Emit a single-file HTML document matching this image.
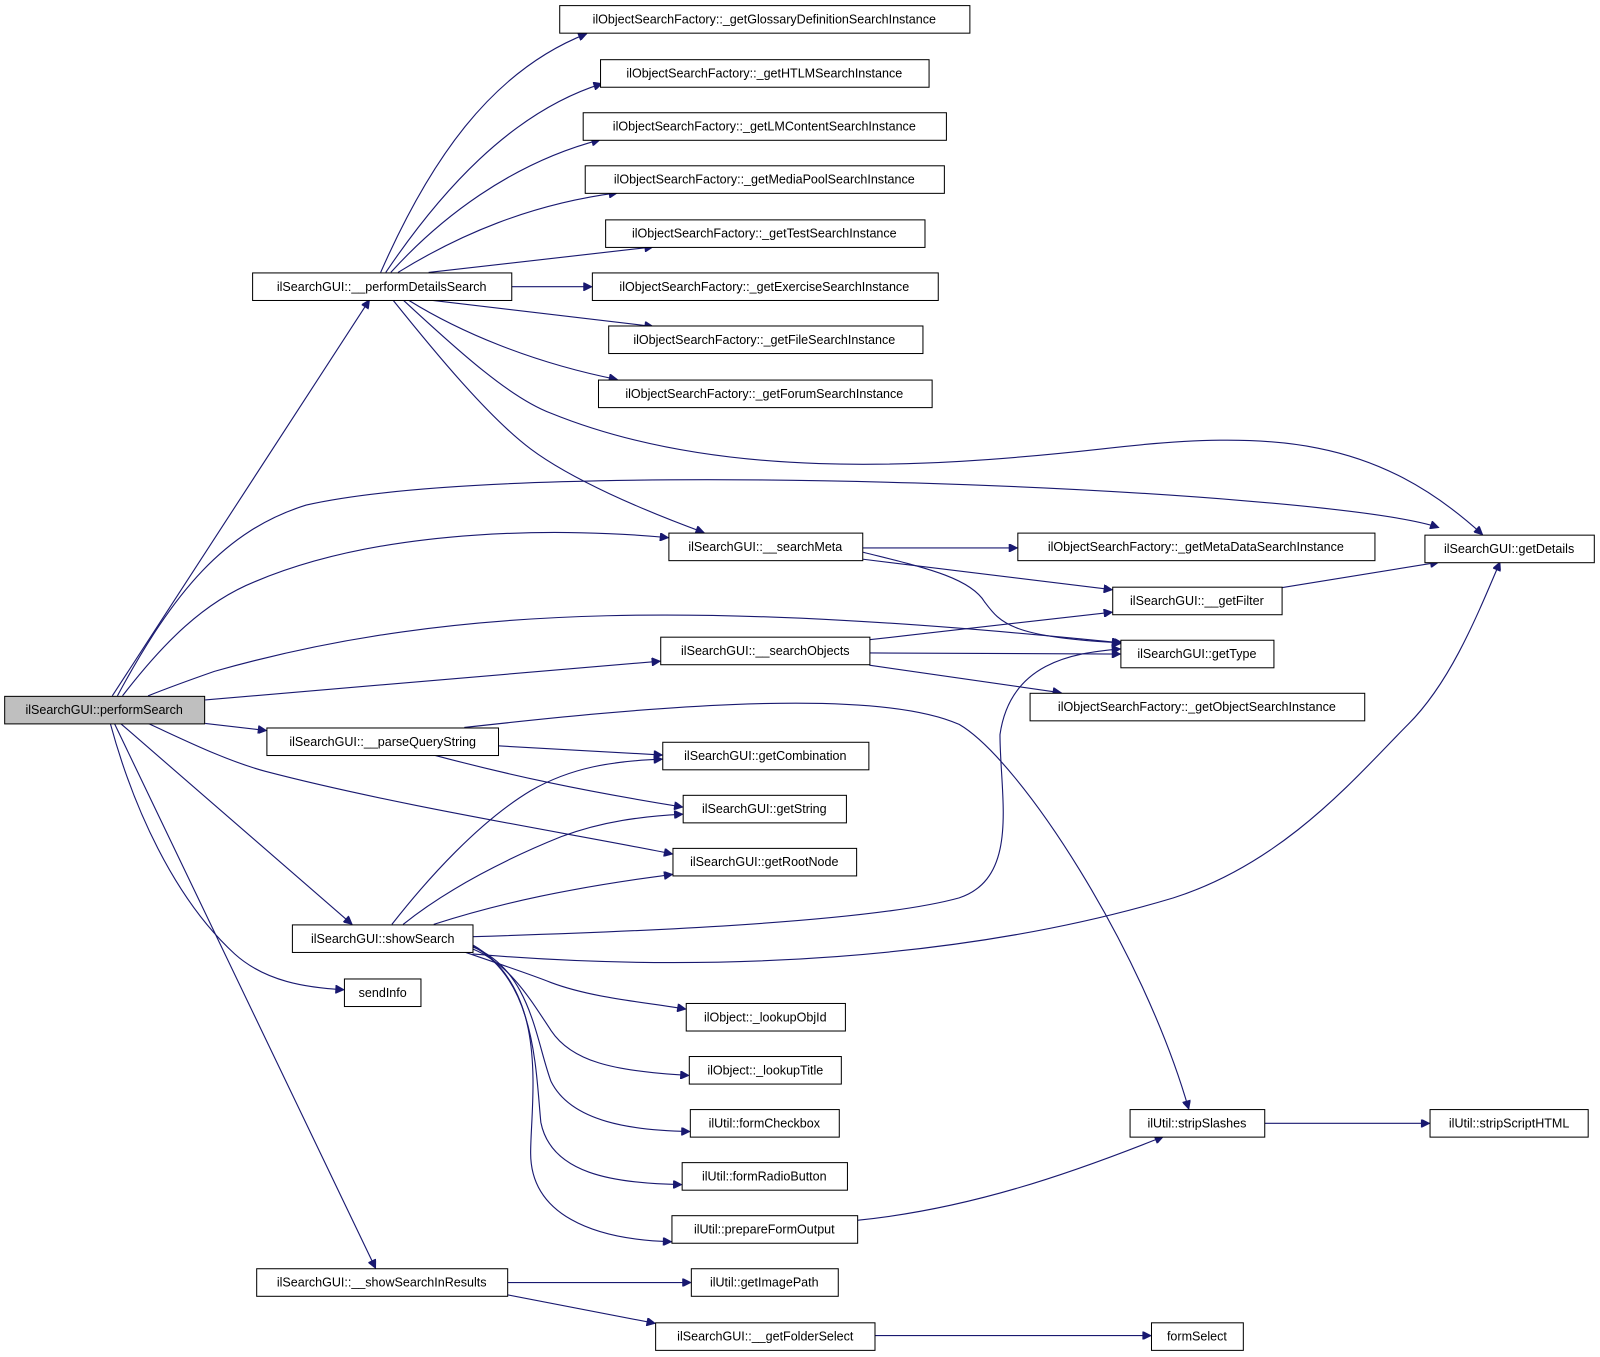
<!DOCTYPE html>
<html><head><meta charset="utf-8"><style>
html,body{margin:0;padding:0;background:#fff;}
svg{display:block;}
text{font-family:"Liberation Sans",sans-serif;font-size:12.3px;fill:#000;}
rect{fill:#fff;stroke:#000;stroke-width:1;}
path{fill:none;stroke:#191970;stroke-width:1.1;}
</style></head><body>
<svg width="1600" height="1357" viewBox="0 0 1568 1330" xmlns="http://www.w3.org/2000/svg">
<defs><marker id="a" viewBox="0 0 10 10" refX="10" refY="5" markerWidth="11" markerHeight="8" markerUnits="userSpaceOnUse" orient="auto"><path d="M0,0 L10,5 L0,10 z" style="fill:#191970;stroke:#191970"/></marker></defs>
<g marker-end="url(#a)">
<path d="M110,682 L362,294"/>
<path d="M115,682 C170,580 220,520 300,495 C520,445 1300,480 1410,517"/>
<path d="M120,682 C160,630 200,590 250,570 C380,515 560,518 655,527"/>
<path d="M145,682 C170,672 190,665 210,658 C450,590 700,590 1098,630"/>
<path d="M201,686 L647,648"/>
<path d="M201,709 L261,716"/>
<path d="M145,709 C180,725 220,745 260,756 C390,790 560,817 659,837"/>
<path d="M118,709 L345,906"/>
<path d="M108,709 C130,790 170,880 230,935 C260,962 300,968 337,970"/>
<path d="M112,709 L368,1243"/>
<path d="M373,267 C420,160 480,70 575,33"/>
<path d="M378,267 C430,190 500,110 590,82"/>
<path d="M383,267 C430,215 500,160 588,137"/>
<path d="M390,267 C450,230 520,200 605,189"/>
<path d="M420,267 L640,242"/>
<path d="M501,281 L580,281"/>
<path d="M420,294 L640,320"/>
<path d="M400,294 C450,325 520,355 605,372"/>
<path d="M395,294 C450,345 500,390 540,405 C700,470 900,460 1080,440 C1250,420 1350,430 1453,524"/>
<path d="M385,294 C430,350 480,410 520,440 C560,470 630,500 690,522"/>
<path d="M845,537 L997,537"/>
<path d="M845,548 L1090,578"/>
<path d="M845,541 C900,555 950,565 965,590 C980,610 990,625 1100,630"/>
<path d="M1256,576 L1410,551"/>
<path d="M852,627 L1090,600"/>
<path d="M852,640 L1098,641"/>
<path d="M852,652 L1040,679"/>
<path d="M455,713 C600,697 850,670 940,710 C1000,745 1120,930 1165,1087"/>
<path d="M488,731 L649,740"/>
<path d="M425,740 C500,760 570,775 669,791"/>
<path d="M384,906 C420,860 470,805 520,775 C560,752 600,746 649,744"/>
<path d="M395,906 C440,870 500,840 550,820 C590,805 630,800 669,798"/>
<path d="M425,906 C490,885 560,870 659,857"/>
<path d="M463,918 C600,914 850,905 940,880 C1000,860 980,780 980,720 C990,650 1050,640 1098,636"/>
<path d="M463,935 C700,955 950,940 1150,880 C1260,845 1330,760 1380,710 C1420,670 1445,610 1470,551"/>
<path d="M455,933 C490,945 520,955 540,963 C580,978 630,982 672,989"/>
<path d="M463,930 C500,945 520,980 540,1010 C560,1040 600,1050 675,1054"/>
<path d="M463,928 C520,950 525,1020 540,1060 C560,1100 620,1108 676,1109"/>
<path d="M463,927 C525,960 525,1050 530,1100 C540,1150 600,1160 668,1161"/>
<path d="M463,926 C540,970 520,1080 520,1130 C520,1190 580,1215 658,1217"/>
<path d="M840,1196 C950,1185 1050,1150 1140,1114"/>
<path d="M1239,1101 L1401,1101"/>
<path d="M497,1257 L677,1257"/>
<path d="M497,1269 L642,1297"/>
<path d="M857,1309 L1128,1309"/>
</g>
<g text-anchor="middle">
<rect x="4.5" y="682.5" width="196" height="27" style="fill:#bfbfbf"/><text x="102" y="700">ilSearchGUI::performSearch</text>
<rect x="247.5" y="267.5" width="254" height="27"/><text x="374" y="285">ilSearchGUI::__performDetailsSearch</text>
<rect x="548.5" y="5.5" width="402" height="27"/><text x="749" y="23">ilObjectSearchFactory::_getGlossaryDefinitionSearchInstance</text>
<rect x="588.5" y="58.5" width="322" height="27"/><text x="749" y="76">ilObjectSearchFactory::_getHTLMSearchInstance</text>
<rect x="571.5" y="110.5" width="356" height="27"/><text x="749" y="128">ilObjectSearchFactory::_getLMContentSearchInstance</text>
<rect x="573.5" y="162.5" width="352" height="27"/><text x="749" y="180">ilObjectSearchFactory::_getMediaPoolSearchInstance</text>
<rect x="593.5" y="215.5" width="313" height="27"/><text x="749" y="233">ilObjectSearchFactory::_getTestSearchInstance</text>
<rect x="580.5" y="267.5" width="339" height="27"/><text x="749" y="285">ilObjectSearchFactory::_getExerciseSearchInstance</text>
<rect x="596.5" y="319.5" width="308" height="27"/><text x="749" y="337">ilObjectSearchFactory::_getFileSearchInstance</text>
<rect x="586.5" y="372.5" width="327" height="27"/><text x="749" y="390">ilObjectSearchFactory::_getForumSearchInstance</text>
<rect x="655.5" y="522.5" width="190" height="27"/><text x="750" y="540">ilSearchGUI::__searchMeta</text>
<rect x="997.5" y="522.5" width="350" height="27"/><text x="1172" y="540">ilObjectSearchFactory::_getMetaDataSearchInstance</text>
<rect x="1396.5" y="524.5" width="166" height="27"/><text x="1479" y="542">ilSearchGUI::getDetails</text>
<rect x="1090.5" y="575.5" width="166" height="27"/><text x="1173" y="593">ilSearchGUI::__getFilter</text>
<rect x="1098.5" y="627.5" width="150" height="27"/><text x="1173" y="645">ilSearchGUI::getType</text>
<rect x="647.5" y="624.5" width="205" height="27"/><text x="750" y="642">ilSearchGUI::__searchObjects</text>
<rect x="1009.5" y="679.5" width="328" height="27"/><text x="1173" y="697">ilObjectSearchFactory::_getObjectSearchInstance</text>
<rect x="261.5" y="713.5" width="227" height="27"/><text x="375" y="731">ilSearchGUI::__parseQueryString</text>
<rect x="649.5" y="727.5" width="202" height="27"/><text x="750" y="745">ilSearchGUI::getCombination</text>
<rect x="669.5" y="779.5" width="160" height="27"/><text x="749" y="797">ilSearchGUI::getString</text>
<rect x="659.5" y="831.5" width="180" height="27"/><text x="749" y="849">ilSearchGUI::getRootNode</text>
<rect x="286.5" y="906.5" width="177" height="27"/><text x="375" y="924">ilSearchGUI::showSearch</text>
<rect x="337.5" y="959.5" width="75" height="27"/><text x="375" y="977">sendInfo</text>
<rect x="672.5" y="983.5" width="156" height="27"/><text x="750" y="1001">ilObject::_lookupObjId</text>
<rect x="675.5" y="1035.5" width="149" height="27"/><text x="750" y="1053">ilObject::_lookupTitle</text>
<rect x="676.5" y="1087.5" width="146" height="27"/><text x="749" y="1105">ilUtil::formCheckbox</text>
<rect x="668.5" y="1139.5" width="162" height="27"/><text x="749" y="1157">ilUtil::formRadioButton</text>
<rect x="658.5" y="1191.5" width="182" height="27"/><text x="749" y="1209">ilUtil::prepareFormOutput</text>
<rect x="1107.5" y="1087.5" width="132" height="27"/><text x="1173" y="1105">ilUtil::stripSlashes</text>
<rect x="1401.5" y="1087.5" width="155" height="27"/><text x="1479" y="1105">ilUtil::stripScriptHTML</text>
<rect x="251.5" y="1243.5" width="246" height="27"/><text x="374" y="1261">ilSearchGUI::__showSearchInResults</text>
<rect x="677.5" y="1243.5" width="144" height="27"/><text x="749" y="1261">ilUtil::getImagePath</text>
<rect x="642.5" y="1296.5" width="215" height="27"/><text x="750" y="1314">ilSearchGUI::__getFolderSelect</text>
<rect x="1128.5" y="1296.5" width="90" height="27"/><text x="1173" y="1314">formSelect</text>
</g>
</svg>
</body></html>
